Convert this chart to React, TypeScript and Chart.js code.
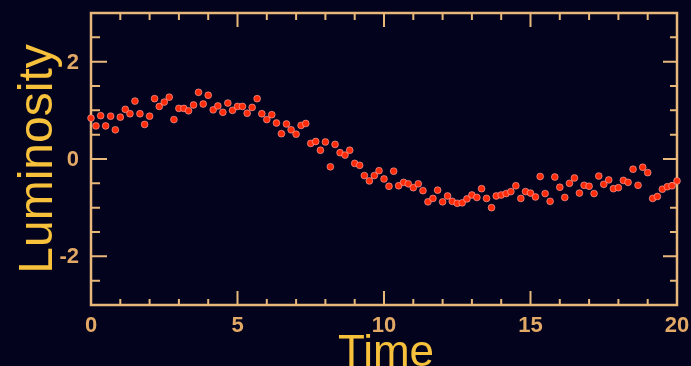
import React, { useEffect, useRef } from "react";
import { Chart, registerables } from "chart.js";

Chart.register(...registerables);

const timeValues: number[] = [
  0, 0.17, 0.33, 0.5, 0.67, 0.83, 1, 1.17, 1.33, 1.5, 1.67, 1.83,
  2, 2.17, 2.33, 2.5, 2.67, 2.83, 3, 3.17, 3.33, 3.5, 3.67, 3.83,
  4, 4.17, 4.33, 4.5, 4.67, 4.83, 5, 5.17, 5.33, 5.5, 5.67, 5.83,
  6, 6.17, 6.33, 6.5, 6.67, 6.83, 7, 7.17, 7.33, 7.5, 7.67, 7.83,
  8, 8.17, 8.33, 8.5, 8.67, 8.83, 9, 9.17, 9.33, 9.5, 9.67, 9.83,
  10, 10.17, 10.33, 10.5, 10.67, 10.83, 11, 11.17, 11.33, 11.5, 11.67, 11.83,
  12, 12.17, 12.33, 12.5, 12.67, 12.83, 13, 13.17, 13.33, 13.5, 13.67, 13.83,
  14, 14.17, 14.33, 14.5, 14.67, 14.83, 15, 15.17, 15.33, 15.5, 15.67, 15.83,
  16, 16.17, 16.33, 16.5, 16.67, 16.83, 17, 17.17, 17.33, 17.5, 17.67, 17.83,
  18, 18.17, 18.33, 18.5, 18.67, 18.83, 19, 19.17, 19.33, 19.5, 19.67, 19.83,
  20,
];

const luminosity: number[] = [
  0.84, 0.68, 0.89, 0.68, 0.88, 0.6, 0.86, 1.02, 0.93, 1.19, 0.93, 0.71,
  0.88, 1.24, 1.08, 1.17, 1.27, 0.81, 1.04, 1.04, 0.99, 1.11, 1.37, 1.13,
  1.31, 1.01, 1.09, 0.96, 1.15, 1.0, 1.08, 1.08, 0.94, 1.06, 1.24, 0.93,
  0.81, 0.91, 0.74, 0.52, 0.72, 0.6, 0.51, 0.69, 0.73, 0.32, 0.36, 0.18,
  0.35, -0.16, 0.3, 0.13, 0.08, 0.18, -0.09, -0.13, -0.34, -0.45, -0.34, -0.24,
  -0.41, -0.56, -0.25, -0.55, -0.48, -0.51, -0.59, -0.51, -0.65, -0.88, -0.81, -0.64,
  -0.88, -0.76, -0.87, -0.91, -0.9, -0.82, -0.74, -0.79, -0.61, -0.81, -1.0, -0.76,
  -0.74, -0.71, -0.67, -0.55, -0.81, -0.67, -0.7, -0.78, -0.36, -0.71, -0.87, -0.37,
  -0.58, -0.79, -0.5, -0.39, -0.7, -0.54, -0.56, -0.71, -0.35, -0.52, -0.43, -0.61,
  -0.59, -0.44, -0.48, -0.21, -0.54, -0.17, -0.28, -0.81, -0.77, -0.62, -0.57, -0.55,
  -0.45,
];

const xTickValues = [0, 5, 10, 15, 20];
const xTickLabels = ["0", "5", "10", "15", "20"];
const yTickValues = [-2, 0, 2];
const yTickLabels = ["-2", "0", "2"];
const xTitle = "Time";
const yTitle = "Luminosity";

const BG = "#03031e";
const FRAME = "#e8b87a";
const LABEL = "#e2a865";
const TITLE = "#f7c13c";

const framePlugin = {
  id: "framePlugin",
  beforeDraw(chart: any) {
    const { ctx, width, height } = chart;
    ctx.save();
    ctx.fillStyle = BG;
    ctx.fillRect(0, 0, width, height);
    ctx.restore();
  },
  beforeDatasetsDraw(chart: any) {
    const { ctx, chartArea } = chart;
    const xs = chart.scales.x;
    const ys = chart.scales.y;
    const { left, right, top, bottom } = chartArea;
    ctx.save();
    ctx.strokeStyle = FRAME;
    ctx.lineWidth = 2.5;
    ctx.strokeRect(left, top, right - left, bottom - top);
    ctx.lineWidth = 2;
    ctx.beginPath();
    for (let v = xs.min; v <= xs.max + 1e-9; v += 1) {
      const px = xs.getPixelForValue(v);
      const major = Math.abs(v % 5) < 1e-9;
      const lb = major ? 14 : 6;
      const lt = major ? 14 : 7;
      ctx.moveTo(px, bottom);
      ctx.lineTo(px, bottom - lb);
      ctx.moveTo(px, top);
      ctx.lineTo(px, top + lt);
    }
    for (let v = ys.min; v <= ys.max + 1e-9; v += 0.5) {
      const py = ys.getPixelForValue(v);
      const major = Math.abs(v % 2) < 1e-9;
      const ll = major ? 16 : 9;
      const lr = major ? 14 : 7;
      ctx.moveTo(left, py);
      ctx.lineTo(left + ll, py);
      ctx.moveTo(right, py);
      ctx.lineTo(right - lr, py);
    }
    ctx.stroke();

    ctx.fillStyle = LABEL;
    ctx.font = "bold 22px 'Liberation Sans', Arial, sans-serif";
    ctx.textAlign = "center";
    ctx.textBaseline = "middle";
    xTickValues.forEach((v, i) => {
      ctx.fillText(xTickLabels[i], xs.getPixelForValue(v), bottom + 21);
    });
    ctx.textAlign = "right";
    yTickValues.forEach((v, i) => {
      ctx.fillText(yTickLabels[i], left - 12, ys.getPixelForValue(v) + 1);
    });

    ctx.fillStyle = TITLE;
    ctx.textAlign = "center";
    ctx.textBaseline = "alphabetic";
    ctx.font = "44px 'Liberation Sans', Arial, sans-serif";
    ctx.fillText(xTitle, (left + right) / 2 + 2, bottom + 61);
    ctx.save();
    ctx.font = "48px 'Liberation Sans', Arial, sans-serif";
    ctx.translate(52, (top + bottom) / 2);
    ctx.rotate(-Math.PI / 2);
    ctx.fillText(yTitle, 0, 0);
    ctx.restore();
    ctx.restore();
  },
};

export default function App() {
  const ref = useRef<HTMLCanvasElement | null>(null);
  useEffect(() => {
    if (!ref.current) return;
    const points = timeValues.map((t, i) => ({ x: t, y: luminosity[i] }));
    const chart = new Chart(ref.current, {
      type: "scatter",
      data: {
        datasets: [
          {
            data: points,
            backgroundColor: "#ff2a08",
            borderColor: "rgba(255,190,190,0.55)",
            borderWidth: 1,
            pointRadius: 3.4,
            clip: false as any,
          },
        ],
      },
      options: {
        animation: false,
        responsive: false,
        maintainAspectRatio: false,
        layout: { padding: { left: 91, right: 14, top: 13, bottom: 61 } },
        plugins: { legend: { display: false }, tooltip: { enabled: false } },
        scales: {
          x: { type: "linear", min: 0, max: 20, display: false },
          y: { type: "linear", min: -3, max: 3, display: false },
        },
      },
      plugins: [framePlugin],
    });
    return () => chart.destroy();
  }, []);
  return (
    <div style={{ position: "fixed", left: 0, top: 0, width: 691, height: 366, background: BG }}>
      <canvas ref={ref} width={691} height={366} style={{ display: "block" }} />
    </div>
  );
}
